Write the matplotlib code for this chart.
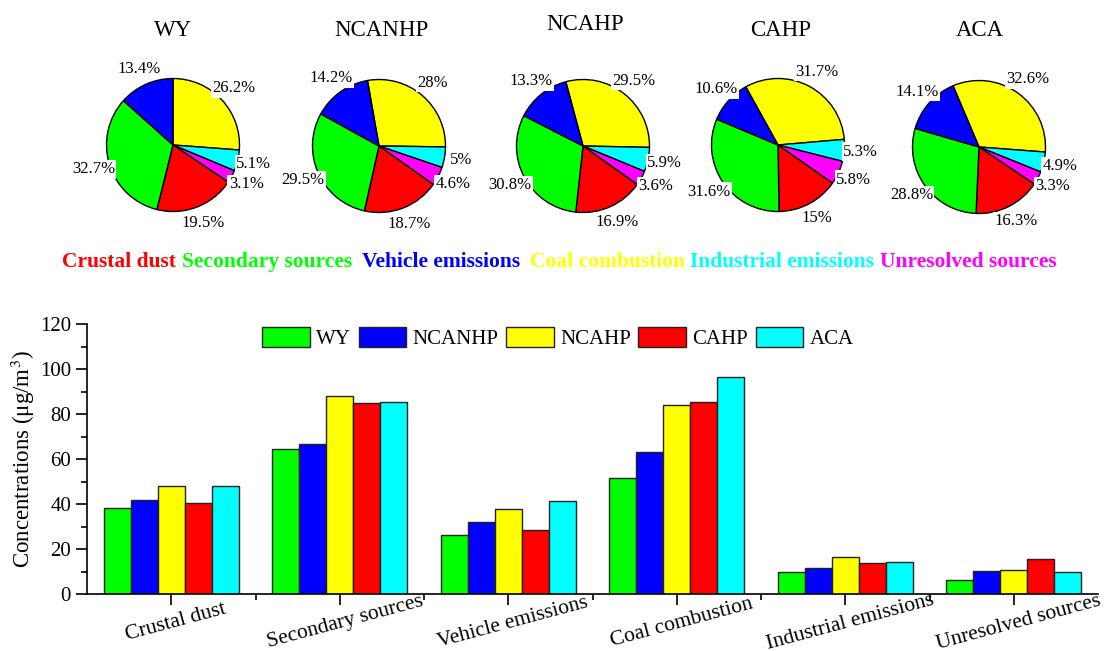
import matplotlib
matplotlib.use("Agg")
import matplotlib.pyplot as plt
import matplotlib.transforms as mtransforms
import numpy as np

plt.rcParams['font.family'] = ['Liberation Serif', 'DejaVu Serif']
plt.rcParams['mathtext.fontset'] = 'stix'

sources = ['Crustal dust', 'Secondary sources', 'Vehicle emissions',
           'Coal combustion', 'Industrial emissions', 'Unresolved sources']
source_colors = ['#ff0000', '#00ff00', '#0000ff', '#ffff00', '#00ffff', '#ff00ff']
sites = ['WY', 'NCANHP', 'NCAHP', 'CAHP', 'ACA']
site_colors = ['#00ff00', '#0000ff', '#ffff00', '#ff0000', '#00ffff']

# percent share of each source (same order as sources) per site
share_wy = [19.5, 32.7, 13.4, 26.2, 5.1, 3.1]
share_ncanhp = [18.7, 29.5, 14.2, 28, 5, 4.6]
share_ncahp = [16.9, 30.8, 13.3, 29.5, 5.9, 3.6]
share_cahp = [15, 31.6, 10.6, 31.7, 5.3, 5.8]
share_aca = [16.3, 28.8, 14.1, 32.6, 4.9, 3.3]
shares = [share_wy, share_ncanhp, share_ncahp, share_cahp, share_aca]

# concentrations (ug/m3), per site, in source order
conc_wy = [38.4, 64.4, 26.3, 51.6, 9.8, 6.2]
conc_ncanhp = [42.0, 66.5, 31.9, 63.2, 11.4, 10.3]
conc_ncahp = [47.9, 87.9, 37.7, 84.1, 16.6, 10.5]
conc_cahp = [40.3, 84.8, 28.5, 85.3, 14.0, 15.5]
conc_aca = [48.2, 85.3, 41.5, 96.3, 14.3, 9.6]
concs = [conc_wy, conc_ncanhp, conc_ncahp, conc_cahp, conc_aca]

W, H = 1105, 651
fig = plt.figure(figsize=(W / 100, H / 100), dpi=100)

# pies: clockwise from start angle, coal first
pie_order = [3, 4, 5, 0, 1, 2]
pie_cx = [173, 379, 583, 778, 979]
pie_cy = [145, 146, 146, 145, 147]
start_angles = [90, 100, 105, 119, 113]
title_xy = [(173, 30), (381, 30), (585, 25), (781, 30), (980, 30)]
r = 66.5

for i, site in enumerate(sites):
    ax = fig.add_axes([(pie_cx[i] - r) / W, 1 - (pie_cy[i] + r) / H, 2 * r / W, 2 * r / H])
    vals = [shares[i][k] for k in pie_order]
    cols = [source_colors[k] for k in pie_order]
    wedges, texts, autotexts = ax.pie(
        vals, colors=cols, startangle=start_angles[i], counterclock=False,
        autopct=lambda p: f"{round(p, 1):g}%", pctdistance=1.25,
        wedgeprops=dict(edgecolor='black', linewidth=1),
        textprops=dict(fontsize=12))
    for t in autotexts:
        t.set_bbox(dict(facecolor='white', edgecolor='none', pad=1))
    ax.set_xlim(-1, 1)
    ax.set_ylim(-1, 1)
    ax.set_aspect('equal')
    fig.text(title_xy[i][0] / W, 1 - title_xy[i][1] / H, site,
             ha='center', va='center', fontsize=16.5)

# colour key row
word_x = [62, 182, 362, 530, 690, 880]
for name, col, x in zip(sources, source_colors, word_x):
    fig.text(x / W, 1 - 262 / H, name, color=col, fontsize=15.5,
             fontweight='bold', ha='left', va='center')

# bar chart
ax = fig.add_axes([87 / W, 1 - 594 / H, (1098 - 87) / W, (594 - 324) / H])
x = np.arange(1, len(sources) + 1)
bw = 0.16
for j, site in enumerate(sites):
    ax.bar(x + (j - 2) * bw, concs[j], bw, color=site_colors[j],
           edgecolor='#222222', linewidth=1, label=site)

ax.set_xlim(0.5, 6.5)
ax.set_ylim(0, 120)
ax.set_yticks(range(0, 121, 20))
ax.set_yticks(range(10, 120, 20), minor=True)
ax.set_xticks(x)
ax.set_xticks(x[:-1] + 0.5, minor=True)
ax.set_xticklabels(sources, rotation=15, fontsize=15.5)
ax.tick_params(axis='y', labelsize=15)
ax.tick_params(which='major', length=8, width=1.2)
ax.tick_params(which='minor', length=4, width=1.2)
ax.tick_params(axis='x', which='major', pad=12.5)
shift = mtransforms.ScaledTranslation(5 / 100, 0, fig.dpi_scale_trans)
for lab in ax.get_xticklabels():
    lab.set_va('center')
    lab.set_transform(lab.get_transform() + shift)
for s in ['top', 'right']:
    ax.spines[s].set_visible(False)
for s in ['left', 'bottom']:
    ax.spines[s].set_linewidth(1.2)
ax.set_ylabel('Concentrations (μg/m$^3$)', fontsize=16.5)
ax.yaxis.set_label_coords(-0.049, 0.5)

fig.legend(loc='center', bbox_to_anchor=(558 / W, 1 - 338 / H), ncol=5,
           frameon=False, fontsize=15, handlelength=2.3, handleheight=1.15,
           handletextpad=0.3, columnspacing=0.35)

fig.savefig('out.png', dpi=100)
